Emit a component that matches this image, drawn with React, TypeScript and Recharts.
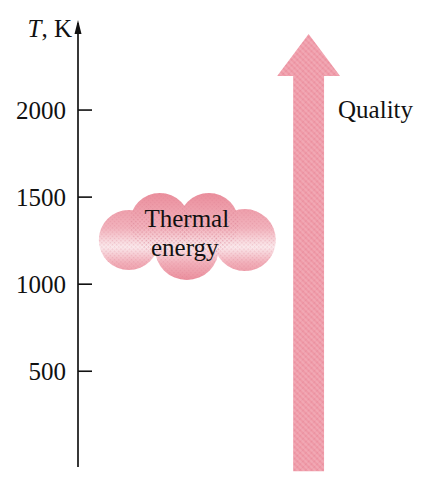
import { ComposedChart, XAxis, YAxis, Scatter, ReferenceArea } from "recharts";

// temperature scale (K)
const tempTicks = [500, 1000, 1500, 2000];
const tempDomain: [number, number] = [-50, 2500];

// cloud of thermal energy, placed at its temperature
const cloudData = [{ x: 31, t: 1265 }];
const cloudLines = ["Thermal", "energy"];

// quality arrow: horizontal span and temperature span
const arrowX = [61.3, 70.1];
const arrowT = [-75, 2437];
const qualityLabel = "Quality";

const FONT = '"Liberation Serif", "Times New Roman", serif';
const PINK = "#ef9aa7";

function TempTick({ x, y, payload }: any) {
  return (
    <g>
      <line x1={x} x2={x + 14} y1={y} y2={y} stroke="#111" strokeWidth={1.6} />
      <text x={x - 12} y={y} dy={9} textAnchor="end" fontFamily={FONT} fontSize={25} fill="#111">
        {payload.value}
      </text>
    </g>
  );
}

function AxisTitle({ viewBox }: any) {
  const ax = viewBox.x + viewBox.width;
  const top = viewBox.y;
  return (
    <g>
      <polygon points={`${ax},${top - 3} ${ax - 3.5},${top + 11} ${ax + 3.5},${top + 11}`} fill="#111" />
      <text x={ax - 6} y={top + 14} textAnchor="end" fontFamily={FONT} fontSize={25} fill="#111">
        <tspan fontStyle="italic">T</tspan>
        <tspan>, K</tspan>
      </text>
    </g>
  );
}

// dithered look of the printed tint
function Hatch({ id, base }: { id: string; base: string }) {
  return (
    <pattern id={id} width={4} height={4} patternUnits="userSpaceOnUse" patternTransform="rotate(45)">
      <rect width={4} height={4} fill={base} />
      <line x1={0} y1={0} x2={0} y2={4} stroke="#e27d91" strokeWidth={1.4} opacity={0.55} />
      <line x1={0} y1={2} x2={4} y2={2} stroke="#f9d3da" strokeWidth={1} opacity={0.5} />
    </pattern>
  );
}

function Cloud({ cx, cy }: any) {
  const puffs = [
    [-58, 2, 30],
    [-27, -15, 30],
    [22, -15, 30],
    [58, 2, 31],
    [0, 10, 32],
  ];
  return (
    <g>
      <defs>
        <linearGradient id="cloudFill" gradientUnits="userSpaceOnUse" x1={0} y1={cy - 45} x2={0} y2={cy + 42}>
          <stop offset="0%" stopColor="#eb8f9d" />
          <stop offset="40%" stopColor="#f2b3bd" />
          <stop offset="62%" stopColor="#fbeaed" />
          <stop offset="80%" stopColor="#f2b1bb" />
          <stop offset="100%" stopColor="#eb8f9d" />
        </linearGradient>
        <pattern id="cloudDots" width={3} height={3} patternUnits="userSpaceOnUse" patternTransform="rotate(45)">
          <rect x={0} y={0} width={1.4} height={1.4} fill="#d9788c" opacity={0.3} />
        </pattern>
      </defs>
      {puffs.map(([dx, dy, r], i) => (
        <circle key={i} cx={cx + dx} cy={cy + dy} r={r} fill="url(#cloudFill)" />
      ))}
      {puffs.map(([dx, dy, r], i) => (
        <circle key={`d${i}`} cx={cx + dx} cy={cy + dy} r={r} fill="url(#cloudDots)" />
      ))}
      <text x={cx} y={cy - 11} textAnchor="middle" fontFamily={FONT} fontSize={25} fill="#111">
        {cloudLines[0]}
      </text>
      <text x={cx - 2} y={cy + 18} textAnchor="middle" fontFamily={FONT} fontSize={25} fill="#111">
        {cloudLines[1]}
      </text>
    </g>
  );
}

function QualityArrow({ x, y, width, height }: any) {
  const head = 42;
  const wing = 16;
  const bottom = y + height;
  const mid = x + width / 2;
  const pts = [
    [x, bottom],
    [x, y + head],
    [x - wing, y + head],
    [mid, y],
    [x + width + wing, y + head],
    [x + width, y + head],
    [x + width, bottom],
  ]
    .map((p) => p.join(","))
    .join(" ");
  return (
    <g>
      <defs>
        <Hatch id="arrowHatch" base={PINK} />
      </defs>
      <polygon points={pts} fill="url(#arrowHatch)" />
      <text x={x + width + 14} y={y + 84} fontFamily={FONT} fontSize={25} fill="#111">
        {qualityLabel}
      </text>
    </g>
  );
}

export default function App() {
  return (
    <div style={{ position: "absolute", left: 0, top: 0, background: "#fff" }}>
      <ComposedChart width={429} height={484} margin={{ top: 23, right: 0, bottom: 17, left: 0 }}>
        <XAxis type="number" dataKey="x" domain={[0, 100]} hide />
        <YAxis
          type="number"
          dataKey="t"
          domain={tempDomain}
          ticks={tempTicks}
          width={78}
          tickSize={0}
          tickMargin={0}
          tickLine={false}
          tick={<TempTick />}
          axisLine={{ stroke: "#222", strokeWidth: 1.8 }}
          label={{ content: <AxisTitle /> }}
        />
        <ReferenceArea
          x1={arrowX[0]}
          x2={arrowX[1]}
          y1={arrowT[0]}
          y2={arrowT[1]}
          ifOverflow="visible"
          shape={<QualityArrow />}
        />
        <Scatter data={cloudData} dataKey="t" shape={<Cloud />} isAnimationActive={false} />
      </ComposedChart>
    </div>
  );
}
